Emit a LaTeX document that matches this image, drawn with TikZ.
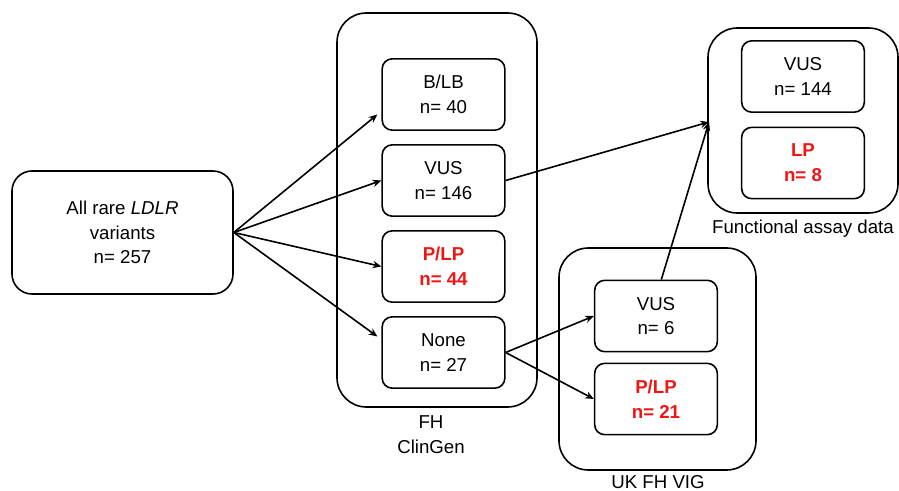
\documentclass[tikz,border=0pt]{standalone}
\usepackage{fontspec}
\setmainfont{Liberation Sans}
\usetikzlibrary{arrows.meta}
\definecolor{alertred}{RGB}{240,20,20}
\tikzset{
  box/.style={draw, line width=1.2pt, rounded corners=7.5pt, align=center, inner sep=0pt,
    font=\fontsize{14}{18.5}\selectfont},
  outer/.style={draw, line width=1.2pt, rounded corners=22pt, inner sep=0pt},
  inbox/.style={box, minimum width=92pt, minimum height=53.5pt},
  hot/.style={text=alertred, font=\fontsize{14}{18.5}\selectfont\bfseries},
  lbl/.style={align=center, inner sep=0pt, font=\fontsize{14}{18.5}\selectfont},
  arr/.style={line width=1.2pt, -{Stealth[length=6.5pt,width=5.5pt]}}
}
\begin{document}
\begin{tikzpicture}[x=0.75pt,y=-0.75pt]
\useasboundingbox (0,0) rectangle (899,491);
% outer groups
\node[outer, minimum width=150pt, minimum height=295.5pt] (fh) at (437,210) {};
\node[outer, minimum width=142.5pt, minimum height=138.75pt] (fa) at (803,120.5) {};
\node[outer, minimum width=147.75pt, minimum height=166.5pt] (uk) at (657.5,359) {};
% left node
\node[box, minimum width=165.75pt, minimum height=92.25pt, rounded corners=15pt] (all) at (122.5,232.5) {All rare \textit{LDLR}\\variants\\n= 257};
% FH ClinGen
\node[inbox] (blb) at (443.5,94.5) {B/LB\\n= 40};
\node[inbox] (vus) at (443.5,180.5) {VUS\\n= 146};
\node[inbox, hot] (plp) at (443.5,266.5) {P/LP\\n= 44};
\node[inbox] (none) at (443.5,352.5) {None\\n= 27};
% Functional assay
\node[inbox] (fvus) at (803,76.5) {VUS\\n= 144};
\node[inbox, hot] (flp) at (803,163) {LP\\n= 8};
% UK FH VIG
\node[inbox] (uvus) at (656,316) {VUS\\n= 6};
\node[inbox, hot] (uplp) at (656,399) {P/LP\\n= 21};
% labels
\node[lbl] (fhl) at (431,434.5) {FH\\ClinGen};
\node[lbl] (fal) at (803,229) {Functional assay data};
\node[lbl] (ukl) at (658,482) {UK FH VIG};
% connectors
\coordinate (faIn) at (709,122);
\draw[arr] (all.east) -- ([shift={(-4,20)}]blb.west);
\draw[arr] (all.east) -- (vus.west);
\draw[arr] (all.east) -- (plp.west);
\draw[arr] (all.east) -- ([shift={(-4,-16)}]none.west);
\draw[arr] (vus.east) -- (faIn);
\draw[arr] ([xshift=4]uvus.north) -- (faIn);
\draw[arr] (none.east) -- (uvus.west);
\draw[arr] (none.east) -- (uplp.west);
\end{tikzpicture}
\end{document}
